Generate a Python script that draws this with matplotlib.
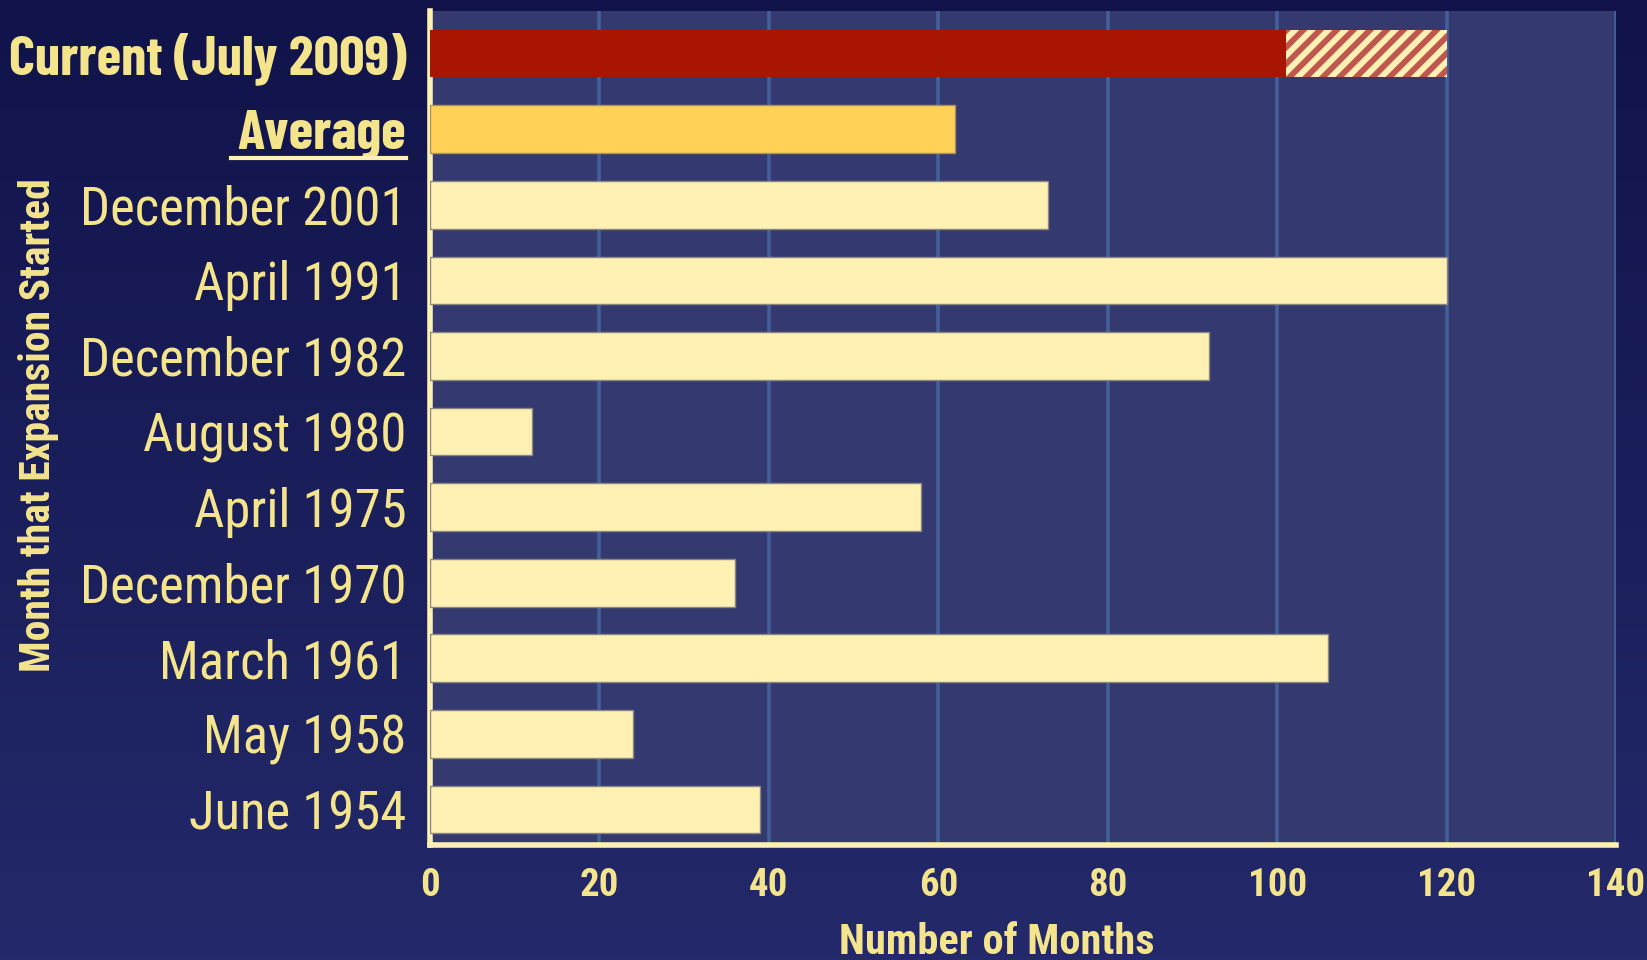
import matplotlib
matplotlib.use("Agg")
import matplotlib.pyplot as plt
import numpy as np
from matplotlib.lines import Line2D

# top to bottom, as in the chart
expansions = ["Current (July 2009)", "Average", "December 2001", "April 1991",
              "December 1982", "August 1980", "April 1975", "December 1970",
              "March 1961", "May 1958", "June 1954"]
months = [101, 62, 73, 120, 92, 12, 58, 36, 106, 24, 39]
current_projected = 120
x_ticks = [0, 20, 40, 60, 80, 100, 120, 140]

TEXT = "#f4e48c"
CREAM = "#fff0b4"
FONT = ["Roboto Condensed", "Liberation Sans Narrow", "DejaVu Sans"]
NARROW = ["Barlow Condensed", "Roboto Condensed", "DejaVu Sans"]


def main():
    plt.rcParams["hatch.linewidth"] = 4.2
    fig = plt.figure(figsize=(16.47, 9.60), dpi=100)

    # dark navy gradient behind everything
    bg = fig.add_axes([0, 0, 1, 1], zorder=-10)
    grad = np.linspace(0, 1, 256).reshape(-1, 1)
    cmap = matplotlib.colors.LinearSegmentedColormap.from_list("bg", ["#11134a", "#23296a"])
    bg.imshow(grad, aspect="auto", cmap=cmap, extent=[0, 1, 0, 1])
    bg.axis("off")

    ax = fig.add_axes([0.2611, 0.1198, 0.7201, 0.8688])
    ax.set_facecolor("#343a70")

    n = len(expansions)
    ypos = np.arange(n)[::-1]
    colors = ["#a81500", "#ffd257"] + [CREAM] * (n - 2)
    edges = ["none", "#a89060"] + ["#8a8680"] * (n - 2)
    ax.barh(ypos, months, height=0.63, color=colors, edgecolor=edges, linewidth=1, zorder=3)

    # rest of the current expansion, hatched
    ax.barh(ypos[0], current_projected - months[0], left=months[0], height=0.63,
            facecolor=CREAM, edgecolor="#c0574e", hatch="//", linewidth=0, zorder=3)

    ax.set_xlim(0, 140)
    ax.set_ylim(-0.47, n - 1 + 0.565)
    ax.set_xticks(x_ticks)
    ax.set_yticks(ypos)
    ax.set_yticklabels(expansions)
    ax.grid(axis="x", color="#44609b", linewidth=2.6)
    ax.set_axisbelow(True)

    for s in ["top", "right"]:
        ax.spines[s].set_visible(False)
    for s in ["left", "bottom"]:
        ax.spines[s].set_color(CREAM)
        ax.spines[s].set_linewidth(4)

    ax.tick_params(length=0)
    ax.tick_params(axis="y", pad=17)
    ax.tick_params(axis="x", pad=16)
    for lab in ax.get_yticklabels():
        lab.set_family(FONT)
        lab.set_color(TEXT)
        lab.set_fontsize(38)
    for lab in ax.get_yticklabels()[:2]:
        lab.set_family(NARROW)
        lab.set_fontweight("bold")
        lab.set_fontsize(40.5)
    for lab in ax.get_xticklabels():
        lab.set_family(FONT)
        lab.set_color(TEXT)
        lab.set_fontsize(28)
        lab.set_fontweight("bold")

    fig.text(0.605, 0.006, "Number of Months", ha="center", va="baseline",
             fontsize=30.5, fontweight="bold", color=TEXT, family=FONT)
    fig.text(0.0232, 0.557, "Month that Expansion Started", rotation=90, ha="center", va="center",
             fontsize=30, fontweight="bold", color=TEXT, family=FONT)

    # underline under "Average"
    fig.canvas.draw()
    bb = ax.get_yticklabels()[1].get_window_extent().transformed(fig.transFigure.inverted())
    fig.add_artist(Line2D([bb.x0 - 0.004, bb.x1], [1 - 158 / 960] * 2, color=CREAM,
                          linewidth=3, transform=fig.transFigure))

    fig.savefig("out.png", dpi=100)


if __name__ == "__main__":
    main()
